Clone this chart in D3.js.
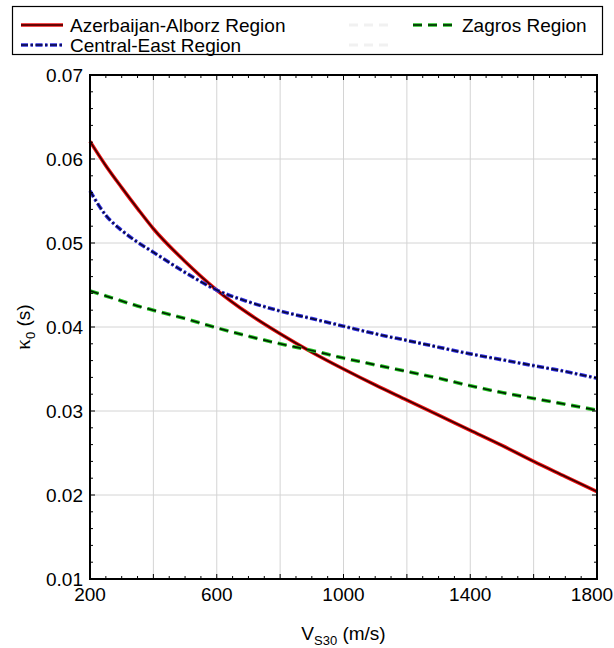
<!DOCTYPE html>
<html>
<head>
<meta charset="utf-8">
<script src="https://cdn.jsdelivr.net/npm/d3@7/dist/d3.min.js"></script>
<style>
  html, body { margin: 0; padding: 0; background: #fff; }
  svg { display: block; font-family: "Liberation Sans", Arial, sans-serif; }
</style>
</head>
<body>
<svg id="chart" width="614" height="648"></svg>
<script>
// Shear-wave velocity samples (m/s)
const vs30 = [200, 250, 300, 350, 400, 500, 600, 700, 800, 900, 1000, 1100, 1200, 1300, 1400, 1500, 1600, 1700, 1800];

// kappa_0 (s) for each region
const azerbaijanAlborz = [0.0621, 0.0592, 0.0566, 0.0541, 0.0517, 0.0478, 0.0444, 0.0416, 0.0392, 0.0370, 0.0350, 0.0331, 0.0313, 0.0295, 0.0277, 0.0259, 0.0240, 0.0222, 0.0204];
const centralEast      = [0.0562, 0.0533, 0.0515, 0.0501, 0.0489, 0.0465, 0.0444, 0.0430, 0.0419, 0.0410, 0.0401, 0.0392, 0.0384, 0.0376, 0.0368, 0.0361, 0.0354, 0.0347, 0.0339];
const zagros           = [0.0443, 0.0437, 0.0431, 0.0425, 0.0420, 0.0410, 0.0399, 0.0389, 0.0380, 0.0372, 0.0363, 0.0355, 0.0347, 0.0339, 0.0330, 0.0322, 0.0315, 0.0308, 0.0301];

const xTickLabels = [200, 600, 1000, 1400, 1800];
const yTickLabels = [0.01, 0.02, 0.03, 0.04, 0.05, 0.06, 0.07];

const series = [
  { name: "Azerbaijan-Alborz Region", values: azerbaijanAlborz, outer: "#ee1111", inner: "#3a0000", dash: null },
  { name: "Central-East Region",      values: centralEast,      outer: "#3030e0", inner: "#08083a", dash: "7,2.5,2.5,2.5" },
  { name: "Zagros Region",            values: zagros,           outer: "#22c022", inner: "#002200", dash: "9,6" }
];

const svg = d3.select("#chart");
const margin = { left: 90, right: 17, top: 75, bottom: 69 };
const W = 614, H = 648;
const x = d3.scaleLinear().domain([200, 1800]).range([margin.left, W - margin.right]);
const y = d3.scaleLinear().domain([0.01, 0.07]).range([H - margin.bottom, margin.top]);

// grid
const grid = svg.append("g");
grid.selectAll("line.gx").data(d3.range(400, 1800, 200)).join("line")
  .attr("x1", d => x(d)).attr("x2", d => x(d))
  .attr("y1", y(0.01)).attr("y2", y(0.07))
  .attr("stroke", "#d4d4d4").attr("stroke-width", 1);
grid.selectAll("line.gy").data(yTickLabels.slice(1, -1)).join("line")
  .attr("x1", x(200)).attr("x2", x(1800))
  .attr("y1", d => y(d)).attr("y2", d => y(d))
  .attr("stroke", "#d4d4d4").attr("stroke-width", 1);

// curves: bright coloured edge with a dark core
const line = d3.line().x((d, i) => x(vs30[i])).y(d => y(d)).curve(d3.curveMonotoneX);
const curves = svg.append("g");
series.forEach(s => {
  curves.append("path").attr("d", line(s.values))
    .attr("fill", "none").attr("stroke", s.outer).attr("stroke-width", 3.6)
    .attr("stroke-dasharray", s.dash);
  curves.append("path").attr("d", line(s.values))
    .attr("fill", "none").attr("stroke", s.inner).attr("stroke-width", 1.6)
    .attr("stroke-dasharray", s.dash);
});

// axes with inward ticks on all four sides
const ax = svg.append("g").attr("stroke", "#000");
const xMinor = d3.range(250, 1800, 50);
const yMinor = d3.range(0.012, 0.0699, 0.002);
[[y(0.01), -1], [y(0.07), 1]].forEach(([yy, dir]) => {
  ax.selectAll(null).data(xMinor).join("line")
    .attr("x1", d => x(d)).attr("x2", d => x(d))
    .attr("y1", yy).attr("y2", d => yy + dir * ((d % 200 === 0) ? 5 : 3))
    .attr("stroke-width", 1);
});
[[x(200), 1], [x(1800), -1]].forEach(([xx, dir]) => {
  ax.selectAll(null).data(yMinor).join("line")
    .attr("y1", d => y(d)).attr("y2", d => y(d))
    .attr("x1", xx).attr("x2", d => xx + dir * (Math.abs(Math.round(d * 1000) % 10) === 0 ? 5 : 3))
    .attr("stroke-width", 1);
});
svg.append("rect")
  .attr("x", x(200)).attr("y", y(0.07))
  .attr("width", x(1800) - x(200)).attr("height", y(0.01) - y(0.07))
  .attr("fill", "none").attr("stroke", "#000").attr("stroke-width", 2);

// tick labels
svg.append("g").selectAll("text").data(xTickLabels).join("text")
  .attr("x", d => Math.min(x(d), W - 22)).attr("y", y(0.01) + 22)
  .attr("text-anchor", "middle").attr("font-size", 19).attr("fill", "#000")
  .text(d => d);
svg.append("g").selectAll("text").data(yTickLabels).join("text")
  .attr("x", x(200) - 7).attr("y", d => y(d) + 7)
  .attr("text-anchor", "end").attr("font-size", 19).attr("fill", "#000")
  .text(d => d3.format(".2f")(d));

// axis titles
const xt = svg.append("text").attr("x", (x(200) + x(1800)) / 2).attr("y", 640)
  .attr("text-anchor", "middle").attr("font-size", 19).attr("fill", "#000");
xt.append("tspan").text("V");
xt.append("tspan").attr("font-size", 13).attr("dy", 5).text("S30");
xt.append("tspan").attr("dy", -5).text(" (m/s)");

const yt = svg.append("text")
  .attr("transform", `translate(30,${(y(0.01) + y(0.07)) / 2}) rotate(-90)`)
  .attr("text-anchor", "middle").attr("font-size", 19).attr("fill", "#000");
yt.append("tspan").attr("font-family", "'Liberation Serif', serif").attr("font-size", 21).text("κ");
yt.append("tspan").attr("font-size", 13).attr("dy", 5).text("0");
yt.append("tspan").attr("dy", -5).text(" (s)");

// legend
const lg = svg.append("g");
lg.append("rect").attr("x", 12.5).attr("y", 6.5).attr("width", 590).attr("height", 48)
  .attr("fill", "#fff").attr("stroke", "#000").attr("stroke-width", 1.2);
const legendPos = [
  { sx: 21, ty: 25 },
  { sx: 21, ty: 45 },
  { sx: 413, ty: 25 }
];
series.forEach((s, i) => {
  const p = legendPos[i];
  lg.append("line").attr("x1", p.sx).attr("x2", p.sx + 42).attr("y1", p.ty).attr("y2", p.ty)
    .attr("stroke", s.outer).attr("stroke-width", 3.6).attr("stroke-dasharray", s.dash);
  lg.append("line").attr("x1", p.sx).attr("x2", p.sx + 42).attr("y1", p.ty).attr("y2", p.ty)
    .attr("stroke", s.inner).attr("stroke-width", 1.6).attr("stroke-dasharray", s.dash);
  lg.append("text").attr("x", p.sx + 49).attr("y", p.ty + 7)
    .attr("font-size", 19).attr("fill", "#000").text(s.name);
});
// faint unlabeled legend samples
[25, 45].forEach(ty => {
  lg.append("line").attr("x1", 349).attr("x2", 391).attr("y1", ty).attr("y2", ty)
    .attr("stroke", "#f1f1f1").attr("stroke-width", 3).attr("stroke-dasharray", "9,6");
});
</script>
</body>
</html>
